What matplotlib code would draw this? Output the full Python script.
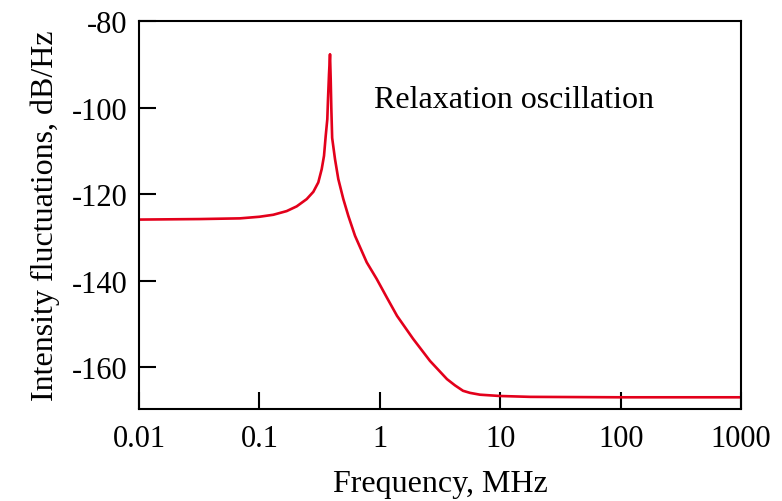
import numpy as np
import matplotlib
matplotlib.use("Agg")
import matplotlib.pyplot as plt

plt.rcParams['font.family'] = ['Liberation Serif', 'DejaVu Serif']

# points (MHz, dB/Hz)
freq = [0.01, 0.0321, 0.069, 0.1, 0.1304, 0.1685, 0.2041, 0.2471, 0.2805, 0.3084,
        0.3292, 0.344, 0.3554, 0.3664, 0.3713, 0.3785, 0.3858,
        0.391, 0.3955, 0.402, 0.4245, 0.4521, 0.4974, 0.5475, 0.6223,
        0.7784, 0.9424, 1.141, 1.39, 1.89, 2.61, 3.61, 4.21, 4.91, 5.61, 6.79,
        9.96, 17.7, 100, 1000]
noise = [-125.86, -125.74, -125.58, -125.21, -124.75, -123.9, -122.81, -121.13, -119.45, -117.28,
         -114.21, -111.14, -106.53, -102.68, -98.06, -92.3, -87.68,
         -93.5, -100.0, -107.0, -111.9, -116.5, -121.1, -125.0, -129.6,
         -135.73, -139.58, -143.81, -148.1, -153.4, -158.5, -162.7, -164.15, -165.4, -165.88, -166.3,
         -166.6, -166.8, -166.9, -166.9]

xticks = [0.01, 0.1, 1, 10, 100, 1000]
xtick_labels = ['0.01', '0.1', '1', '10', '100', '1000']
yticks = [-80, -100, -120, -140, -160]

fig = plt.figure(figsize=(7.82, 5.02), dpi=100)
ax = fig.add_axes([0.1777, 0.1833, 0.77, 0.7729])

ax.plot(freq, noise, color='#e3001b', lw=1.9, solid_joinstyle='round')

ax.set_xscale('log')
ax.set_xlim(0.01, 1000)
ax.set_ylim(-169.6, -80)
ax.set_xticks(xticks)
ax.set_xticklabels(xtick_labels)
ax.minorticks_off()
ax.set_yticks(yticks)
ax.set_yticklabels([str(t) for t in yticks])

ax.tick_params(direction='in', length=12, width=1.5, labelsize=22, pad=8)
ax.tick_params(axis='x', pad=11)
for s in ax.spines.values():
    s.set_linewidth(1.5)

ax.set_xlabel('Frequency, MHz', fontsize=23, labelpad=11)
ax.set_ylabel('Intensity fluctuations, dB/Hz', fontsize=23, labelpad=9)

ax.text(0.9, -98.2, 'Relaxation oscillation', fontsize=23, ha='left', va='center')

fig.savefig('out.png', dpi=100)
